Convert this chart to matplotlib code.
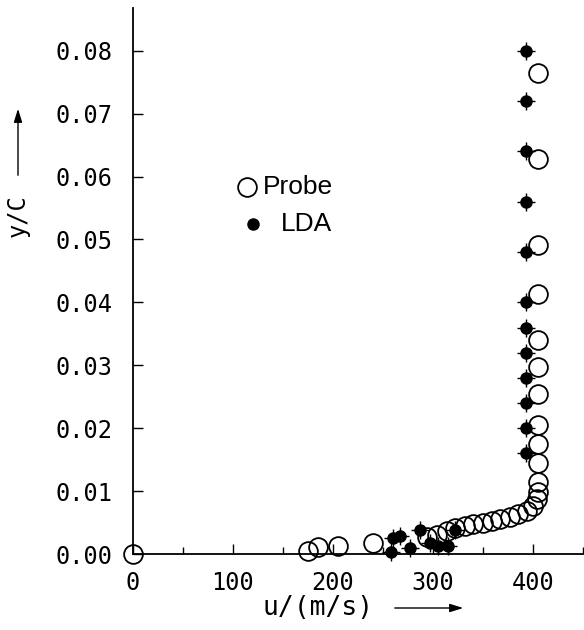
import matplotlib
matplotlib.use("Agg")
import matplotlib.pyplot as plt
from matplotlib import font_manager
import numpy as np

# velocity profile data: probe traverse and LDA measurements
probe_u = [0, 175, 185, 205, 240, 294, 304, 314, 322, 332, 340, 350, 359, 367,
           377, 385, 394, 400, 404, 405, 405, 405, 405, 405, 405, 405, 405,
           405, 405, 405, 405]
probe_y = [0.0, 0.0005, 0.0011, 0.0012, 0.0018, 0.0027, 0.0031, 0.0036, 0.0042,
           0.0045, 0.0048, 0.0050, 0.0052, 0.0056, 0.0059, 0.0063, 0.0068,
           0.0076, 0.0087, 0.0098, 0.0114, 0.0145, 0.0175, 0.0205, 0.0255,
           0.0298, 0.0340, 0.0413, 0.0492, 0.0628, 0.0765]

lda_u = [258, 260, 267, 277, 287, 297, 305, 315, 322,
         393, 393, 393, 393, 393, 393, 393, 393, 393, 393, 393, 393]
lda_y = [0.0003, 0.0025, 0.0029, 0.0010, 0.0038, 0.0018, 0.0012, 0.0012, 0.0038,
         0.016, 0.020, 0.024, 0.028, 0.032, 0.036, 0.040, 0.048, 0.056, 0.064,
         0.072, 0.080]

x_ticks = [0, 100, 200, 300, 400]
y_ticks = [0.00, 0.01, 0.02, 0.03, 0.04, 0.05, 0.06, 0.07, 0.08]

mono = "DejaVu Sans Mono"
names = {f.name for f in font_manager.fontManager.ttflist}
legend_font = "Liberation Sans Narrow" if "Liberation Sans Narrow" in names else "Liberation Sans"

fig = plt.figure(figsize=(5.84, 6.30), dpi=100)
ax = fig.add_axes([0.2277, 0.1206, 0.7705, 0.8667])

# probe: large open circles
ax.plot(probe_u, probe_y, linestyle="none", marker="o", markersize=13.5,
        markerfacecolor="none", markeredgecolor="black", markeredgewidth=1.3,
        clip_on=False, zorder=3)
# LDA: filled dots with a small cross
ax.plot(lda_u, lda_y, linestyle="none", marker="+", markersize=12.5,
        markeredgecolor="black", markeredgewidth=1.0, clip_on=False, zorder=4)
ax.plot(lda_u, lda_y, linestyle="none", marker="o", markersize=8,
        color="black", clip_on=False, zorder=4)

ax.set_xlim(0, 450)
ax.set_ylim(0, 0.0868)

ax.spines["top"].set_visible(False)
ax.spines["right"].set_visible(False)
for s in ["left", "bottom"]:
    ax.spines[s].set_linewidth(1.3)

ax.set_xticks(np.arange(0, 451, 50), minor=True)
ax.set_xticks(x_ticks)
ax.set_xticklabels([str(v) for v in x_ticks], fontfamily=mono, fontsize=17)
ax.set_yticks(y_ticks)
ax.set_yticklabels(["%.2f" % v for v in y_ticks], fontfamily=mono, fontsize=17)
ax.tick_params(axis="both", which="both", direction="in", width=1.0)
ax.tick_params(axis="y", length=7, pad=15)
ax.tick_params(axis="x", which="major", length=7, pad=12)
ax.tick_params(axis="x", which="minor", length=5)

# axis titles with arrows
fig.text(318 / 584, 1 - 608 / 630, "u/(m/s)", fontfamily=mono, fontsize=19,
         ha="center", va="center")
fig.add_artist(matplotlib.patches.FancyArrowPatch(
    (392 / 584, 1 - 608 / 630), (466 / 584, 1 - 608 / 630),
    transform=fig.transFigure, arrowstyle="-|>,head_length=8,head_width=2.5",
    color="black", linewidth=1.0, mutation_scale=1))
fig.text(18 / 584, 1 - 216 / 630, "y/C", fontfamily=mono, fontsize=17,
         rotation=90, ha="center", va="center")
fig.add_artist(matplotlib.patches.FancyArrowPatch(
    (18 / 584, 1 - 178 / 630), (18 / 584, 1 - 106 / 630),
    transform=fig.transFigure, arrowstyle="-|>,head_length=8,head_width=2.5",
    color="black", linewidth=1.0, mutation_scale=1))

# legend drawn by hand
ax.plot([114], [0.0584], marker="o", markersize=13.5,
        markerfacecolor="none", markeredgecolor="black", markeredgewidth=1.3,
        linestyle="none")
ax.plot([120], [0.0525], marker="o", markersize=8, color="black",
        linestyle="none")
ax.text(130, 0.0584, "Probe", fontfamily=legend_font, fontsize=19,
        va="center", ha="left")
ax.text(148, 0.0525, "LDA", fontfamily=legend_font, fontsize=19,
        va="center", ha="left")

fig.savefig("out.png", dpi=100)
